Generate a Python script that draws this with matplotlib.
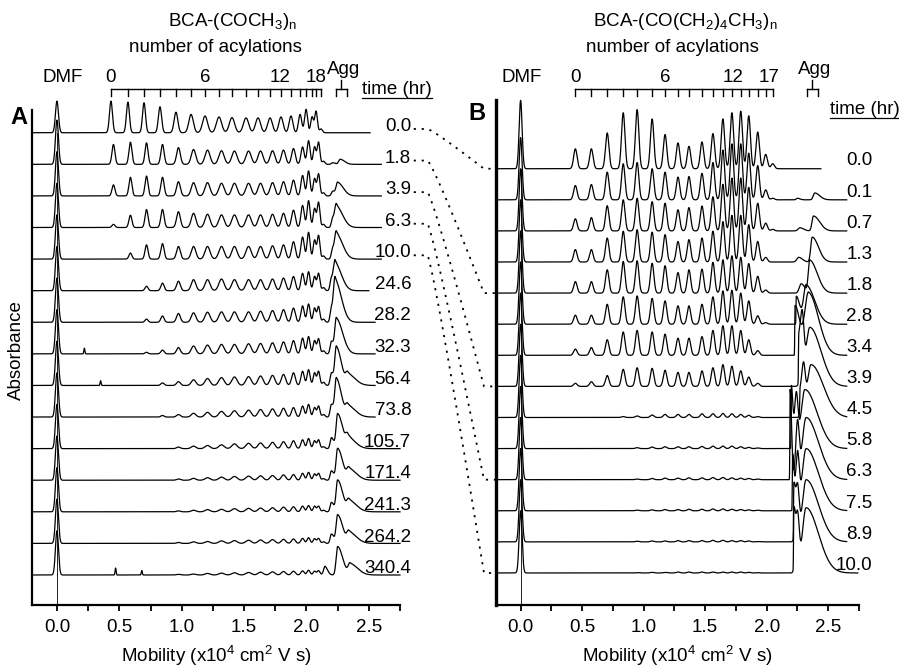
import numpy as np
import matplotlib.pyplot as plt
from matplotlib import transforms

plt.rcParams['font.family'] = ['Liberation Sans', 'DejaVu Sans']
plt.rcParams['mathtext.fontset'] = 'custom'
plt.rcParams['mathtext.rm'] = 'Liberation Sans'
plt.rcParams['mathtext.it'] = 'Liberation Sans:italic'
plt.rcParams['font.size'] = 13.5

# ---------------- Panel A: BCA-(COCH3)n ----------------
a_times = ["0.0", "1.8", "3.9", "6.3", "10.0", "24.6", "28.2", "32.3", "56.4",
           "73.8", "105.7", "171.4", "241.3", "264.2", "340.4"]
a_pos = [0.433, 0.569, 0.698, 0.826, 0.954, 1.075, 1.187, 1.299, 1.403, 1.516,
         1.612, 1.708, 1.796, 1.876, 1.949, 1.997, 2.045, 2.077, 2.117]
a_sig = [0.012, 0.012, 0.012, 0.013, 0.015, 0.018, 0.020, 0.021, 0.021, 0.021,
         0.020, 0.019, 0.017, 0.015, 0.013, 0.012, 0.011, 0.011, 0.011]
a_shift = [0.0] + [0.02] * 14
a_heights = [
    [1.00, 0.97, 0.95, 0.82, 0.65, 0.58, 0.53, 0.50, 0.48, 0.47, 0.47, 0.47, 0.50, 0.53, 0.58, 0.74, 0.50, 0.68, 0.12],
    [0.63, 0.70, 0.68, 0.63, 0.53, 0.47, 0.45, 0.43, 0.42, 0.42, 0.42, 0.43, 0.45, 0.50, 0.55, 0.75, 0.55, 0.70, 0.10],
    [0.35, 0.59, 0.63, 0.59, 0.45, 0.42, 0.42, 0.40, 0.40, 0.40, 0.40, 0.42, 0.45, 0.50, 0.65, 0.79, 0.55, 0.70, 0.10],
    [0.10, 0.39, 0.57, 0.57, 0.50, 0.45, 0.42, 0.40, 0.40, 0.40, 0.40, 0.42, 0.45, 0.55, 0.70, 0.85, 0.60, 0.80, 0.10],
    [0.00, 0.19, 0.45, 0.49, 0.40, 0.40, 0.40, 0.40, 0.40, 0.40, 0.40, 0.42, 0.45, 0.55, 0.70, 0.85, 0.60, 0.75, 0.10],
    [0.00, 0.00, 0.14, 0.24, 0.30, 0.35, 0.35, 0.37, 0.35, 0.35, 0.35, 0.37, 0.40, 0.45, 0.55, 0.60, 0.45, 0.55, 0.10],
    [0.00, 0.00, 0.10, 0.20, 0.28, 0.30, 0.32, 0.33, 0.33, 0.33, 0.35, 0.37, 0.40, 0.45, 0.52, 0.58, 0.45, 0.50, 0.10],
    [0.00, 0.00, 0.05, 0.12, 0.20, 0.25, 0.28, 0.30, 0.30, 0.32, 0.33, 0.35, 0.38, 0.42, 0.50, 0.55, 0.42, 0.48, 0.10],
    [0.00, 0.00, 0.00, 0.08, 0.12, 0.18, 0.22, 0.25, 0.27, 0.28, 0.30, 0.32, 0.35, 0.40, 0.45, 0.50, 0.40, 0.45, 0.10],
    [0.00, 0.00, 0.00, 0.05, 0.08, 0.12, 0.15, 0.18, 0.20, 0.22, 0.24, 0.26, 0.28, 0.30, 0.35, 0.40, 0.30, 0.35, 0.08],
    [0.00, 0.00, 0.00, 0.00, 0.05, 0.08, 0.10, 0.12, 0.15, 0.17, 0.18, 0.20, 0.22, 0.25, 0.28, 0.32, 0.25, 0.28, 0.06],
    [0.00, 0.00, 0.00, 0.00, 0.04, 0.06, 0.08, 0.10, 0.12, 0.13, 0.14, 0.15, 0.17, 0.18, 0.22, 0.25, 0.20, 0.22, 0.05],
    [0.00, 0.00, 0.00, 0.00, 0.03, 0.05, 0.07, 0.08, 0.10, 0.11, 0.12, 0.13, 0.15, 0.16, 0.18, 0.20, 0.18, 0.18, 0.05],
    [0.00, 0.00, 0.00, 0.00, 0.03, 0.05, 0.06, 0.08, 0.09, 0.10, 0.11, 0.12, 0.13, 0.14, 0.16, 0.18, 0.15, 0.16, 0.05],
    [0.00, 0.00, 0.00, 0.00, 0.02, 0.03, 0.05, 0.06, 0.07, 0.08, 0.09, 0.10, 0.11, 0.12, 0.13, 0.15, 0.12, 0.14, 0.05],
]
a_dmf = [1.0] + [1.4] * 14
# aggregate peaks: (centre, height, left width, right width)
a_agg = [
    [],
    [(2.21, 0.05, 0.010, 0.02), (2.27, 0.16, 0.012, 0.035)],
    [(2.21, 0.15, 0.010, 0.02), (2.25, 0.42, 0.012, 0.045)],
    [(2.21, 0.30, 0.010, 0.02), (2.24, 0.66, 0.012, 0.05)],
    [(2.21, 0.35, 0.010, 0.02), (2.24, 0.78, 0.012, 0.05)],
    [(2.20, 0.40, 0.010, 0.02), (2.23, 0.85, 0.012, 0.05)],
    [(2.20, 0.45, 0.010, 0.02), (2.23, 1.30, 0.012, 0.05)],
    [(2.20, 0.40, 0.010, 0.02), (2.24, 1.10, 0.012, 0.05)],
    [(2.20, 0.40, 0.010, 0.02), (2.24, 1.20, 0.012, 0.04), (2.33, 0.35, 0.015, 0.06)],
    [(2.20, 0.40, 0.010, 0.02), (2.24, 1.20, 0.012, 0.04), (2.33, 0.35, 0.015, 0.06)],
    [(2.20, 0.35, 0.010, 0.02), (2.25, 1.10, 0.012, 0.04), (2.33, 0.35, 0.015, 0.06)],
    [(2.20, 0.30, 0.010, 0.02), (2.25, 1.00, 0.012, 0.04), (2.34, 0.35, 0.015, 0.06)],
    [(2.20, 0.30, 0.010, 0.02), (2.25, 1.00, 0.012, 0.04), (2.34, 0.35, 0.015, 0.06)],
    [(2.20, 0.30, 0.010, 0.02), (2.25, 0.90, 0.012, 0.04), (2.34, 0.35, 0.015, 0.06)],
    [(2.15, 0.25, 0.010, 0.02), (2.25, 0.90, 0.012, 0.04), (2.35, 0.35, 0.015, 0.06)],
]
a_spikes = [[], [], [], [], [], [], [], [(0.22, 0.18)], [(0.35, 0.15)], [], [], [], [], [],
            [(0.47, 0.22), (0.68, 0.14)]]
a_end = [2.51, 2.6, 2.6, 2.6, 2.6, 2.5, 2.55, 2.55, 2.55, 2.55, 2.75, 2.75, 2.75, 2.75, 2.75]

# ---------------- Panel B: BCA-(CO(CH2)4CH3)n ----------------
b_times = ["0.0", "0.1", "0.7", "1.3", "1.8", "2.8", "3.4", "3.9", "4.5",
           "5.8", "6.3", "7.5", "8.9", "10.0"]
b_pos = [0.445, 0.575, 0.704, 0.834, 0.947, 1.069, 1.174, 1.279, 1.368, 1.474,
         1.563, 1.644, 1.717, 1.789, 1.854, 1.927, 1.992, 2.049]
b_heights = [
    [0.64, 0.64, 1.15, 1.80, 1.90, 1.60, 1.10, 0.83, 0.72, 0.86, 1.13, 1.60, 1.80, 1.85, 1.70, 1.18, 0.46, 0.16],
    [0.46, 0.49, 0.89, 1.16, 1.20, 1.00, 0.89, 0.73, 0.75, 0.85, 1.20, 1.60, 1.80, 1.80, 1.50, 1.10, 0.32, 0.05],
    [0.39, 0.43, 0.81, 1.00, 1.05, 0.94, 0.89, 0.68, 0.75, 0.80, 1.10, 1.50, 1.70, 1.70, 1.40, 0.89, 0.25, 0.05],
    [0.40, 0.40, 0.77, 0.99, 1.04, 0.96, 0.88, 0.66, 0.72, 0.77, 0.99, 1.30, 1.50, 1.50, 1.20, 0.66, 0.15, 0.00],
    [0.37, 0.37, 0.75, 1.02, 1.04, 0.96, 0.88, 0.66, 0.75, 0.77, 0.99, 1.07, 1.20, 1.15, 0.95, 0.54, 0.10, 0.00],
    [0.29, 0.29, 0.64, 0.88, 0.91, 0.83, 0.75, 0.59, 0.59, 0.64, 0.88, 1.07, 1.09, 1.00, 0.75, 0.27, 0.05, 0.00],
    [0.20, 0.25, 0.50, 0.75, 0.80, 0.75, 0.68, 0.55, 0.55, 0.60, 0.80, 0.95, 0.95, 0.80, 0.50, 0.15, 0.00, 0.00],
    [0.10, 0.15, 0.35, 0.55, 0.60, 0.58, 0.52, 0.45, 0.45, 0.50, 0.60, 0.70, 0.65, 0.50, 0.30, 0.10, 0.00, 0.00],
    [0.00, 0.00, 0.00, 0.03, 0.05, 0.08, 0.10, 0.10, 0.10, 0.12, 0.12, 0.13, 0.12, 0.10, 0.07, 0.03, 0.00, 0.00],
    [0.00, 0.00, 0.00, 0.00, 0.03, 0.05, 0.06, 0.06, 0.06, 0.07, 0.08, 0.08, 0.08, 0.06, 0.04, 0.02, 0.00, 0.00],
    [0.00, 0.00, 0.00, 0.00, 0.02, 0.04, 0.05, 0.05, 0.06, 0.06, 0.07, 0.07, 0.06, 0.05, 0.04, 0.02, 0.00, 0.00],
    [0.00, 0.00, 0.00, 0.00, 0.02, 0.03, 0.04, 0.04, 0.05, 0.05, 0.06, 0.06, 0.05, 0.04, 0.03, 0.02, 0.00, 0.00],
    [0.00, 0.00, 0.00, 0.00, 0.02, 0.03, 0.03, 0.04, 0.04, 0.04, 0.05, 0.05, 0.04, 0.04, 0.03, 0.01, 0.00, 0.00],
    [0.00, 0.00, 0.00, 0.00, 0.01, 0.02, 0.02, 0.03, 0.03, 0.03, 0.03, 0.03, 0.03, 0.03, 0.02, 0.01, 0.00, 0.00],
]
b_sig = 0.014
b_dmf = [2.2] + [2.0] * 13
b_agg = [
    [],
    [(2.25, 0.05, 0.010, 0.02), (2.39, 0.22, 0.012, 0.04)],
    [(2.27, 0.10, 0.015, 0.03), (2.38, 0.48, 0.012, 0.05)],
    [(2.26, 0.15, 0.015, 0.03), (2.37, 0.80, 0.012, 0.05)],
    [(2.28, 0.30, 0.015, 0.03), (2.35, 1.05, 0.012, 0.06)],
    [(2.24, 0.90, 0.002, 0.03), (2.32, 1.25, 0.020, 0.07)],
    [(2.23, 1.60, 0.002, 0.04), (2.34, 2.00, 0.030, 0.08)],
    [(2.26, 1.50, 0.002, 0.02), (2.29, 1.70, 0.014, 0.014), (2.35, 1.90, 0.030, 0.09)],
    [(2.27, 0.80, 0.002, 0.02), (2.30, 1.30, 0.014, 0.014), (2.36, 1.70, 0.030, 0.10)],
    [(2.20, 2.00, 0.002, 0.012), (2.24, 1.70, 0.014, 0.014), (2.31, 1.90, 0.030, 0.10)],
    [(2.19, 2.90, 0.002, 0.012), (2.25, 1.80, 0.014, 0.014), (2.32, 2.00, 0.030, 0.10)],
    [(2.21, 1.80, 0.002, 0.012), (2.25, 1.80, 0.014, 0.014), (2.32, 2.00, 0.030, 0.10)],
    [(2.22, 1.70, 0.002, 0.012), (2.25, 1.70, 0.014, 0.014), (2.32, 2.00, 0.030, 0.10)],
    [(2.22, 1.90, 0.002, 0.012), (2.25, 1.80, 0.014, 0.014), (2.32, 2.10, 0.030, 0.10)],
]
b_end = [2.44] + [2.65] * 12 + [2.74]

# times in A that are linked to the same times in B
links = ["0.0", "1.8", "3.9", "6.3", "10.0"]

W, H = 899, 671


def fx(px):
    return px / W


def fy(py):
    return 1 - py / H


def peak(x, c, h, sl, sr):
    s = np.where(x < c, sl, sr)
    return h * np.exp(-0.5 * ((x - c) / s) ** 2)


def trace(x, pos, heights, sig, shift, dmf, agg, spikes):
    y = peak(x, 0.0, dmf, 0.012, 0.012)
    for p, h, s in zip(pos, heights, sig):
        if h > 0:
            y += peak(x, p + shift, h, s, s)
    for c, h, sl, sr in agg:
        y += peak(x, c, h, sl, sr)
    for c, h in spikes:
        y += peak(x, c, h, 0.004, 0.004)
    return y


fig = plt.figure(figsize=(8.99, 6.71), dpi=100)
axA = fig.add_axes([fx(32), fy(605), fx(400) - fx(32), fy(110) - fy(605)])
axB = fig.add_axes([fx(496), fy(605), fx(859) - fx(496), fy(100) - fy(605)])
axA.set_ylim(-0.95, 14.72)
axB.set_ylim(-1.03, 15.21)

for ax, lw in [(axA, 1.6), (axB, 2.4)]:
    ax.set_xlim(-0.2, 2.75)
    ax.spines['top'].set_visible(False)
    ax.spines['right'].set_visible(False)
    ax.spines['left'].set_linewidth(lw)
    ax.spines['bottom'].set_linewidth(1.6)
    ax.set_yticks([])
    ax.set_xticks(np.arange(0, 2.51, 0.5))
    ax.set_xticks(np.arange(0.0, 2.76, 0.25), minor=True)
    ax.tick_params(axis='x', which='both', direction='out', length=4, width=1.3,
                   labelsize=13.5, pad=6)
    ax.xaxis.set_major_formatter(plt.FormatStrFormatter('%.1f'))
    ax.set_xlabel("Mobility (x10$^4$ cm$^2$ V s)", fontsize=13.5, labelpad=6)

# traces A
nA = len(a_times)
for i in range(nA):
    base = nA - 1 - i
    x = np.linspace(-0.2, a_end[i], 4000)
    y = trace(x, a_pos, a_heights[i], a_sig, a_shift[i], a_dmf[i], a_agg[i], a_spikes[i])
    axA.plot(x, base + y, color='black', lw=0.9, clip_on=False)
    axA.text(2.84, base + 0.2, a_times[i], ha='right', va='center', fontsize=13.5)
axA.plot([0, 0], [-0.95, nA - 1], color='black', lw=0.6)

# traces B
nB = len(b_times)
for i in range(nB):
    base = nB - 1 - i
    x = np.linspace(-0.2, b_end[i], 4000)
    y = trace(x, b_pos, b_heights[i], [b_sig] * len(b_pos), 0.0, b_dmf[i], b_agg[i], [])
    axB.plot(x, base + y, color='black', lw=0.9, clip_on=False)
    axB.text(2.86, base + 0.25, b_times[i], ha='right', va='center', fontsize=13.5)
axB.plot([0, 0], [-1.03, nB - 1], color='black', lw=0.6)


# header rulers
def header(ax, title, title_x, sub_x, dmf_x, pos, labels, label_dx, agg_x, agg_w):
    tr = transforms.blended_transform_factory(ax.transData, fig.transFigure)
    ax.text(title_x, fy(22), title, transform=tr, ha='center', va='center')
    ax.text(sub_x, fy(48), "number of acylations", transform=tr, ha='center', va='center')
    ax.text(dmf_x, fy(77), "DMF", transform=tr, ha='center', va='center')
    ax.plot([pos[0], pos[-1]], [fy(89), fy(89)], transform=tr, color='black', lw=1, clip_on=False)
    for p in pos:
        ax.plot([p, p], [fy(89), fy(96)], transform=tr, color='black', lw=1, clip_on=False)
    for n, dx in zip(labels, label_dx):
        ax.text(pos[n] + dx, fy(77), str(n), transform=tr, ha='center', va='center')
    ax.text(agg_x + 0.02, fy(69), "Agg", transform=tr, ha='center', va='center')
    ax.plot([agg_x, agg_x], [fy(80), fy(89)], transform=tr, color='black', lw=1, clip_on=False)
    ax.plot([agg_x - agg_w, agg_x + agg_w], [fy(89), fy(89)], transform=tr, color='black', lw=1, clip_on=False)
    for s in (-1, 1):
        ax.plot([agg_x + s * agg_w, agg_x + s * agg_w], [fy(89), fy(96)], transform=tr,
                color='black', lw=1, clip_on=False)


header(axA, "BCA-(COCH$_3$)$_\\mathrm{n}$", 1.41, 1.27, 0.044, a_pos, [0, 6, 12, 18],
       [0, 0, -0.01, -0.04], 2.28, 0.045)
header(axB, "BCA-(CO(CH$_2$)$_4$CH$_3$)$_\\mathrm{n}$", 1.34, 1.23, 0.01, b_pos, [0, 6, 12, 17],
       [0, 0, 0.01, -0.03], 2.37, 0.045)

# time (hr) headings, underlined
for x0, x1, yy in [(362, 432, 90), (830, 899, 110)]:
    fig.text(fx(x0), fy(yy), "time (hr)", ha='left', va='center', fontsize=13.5)
    fig.add_artist(plt.Line2D([fx(x0), fx(x1)], [fy(yy + 8), fy(yy + 8)], color='black', lw=0.9))

fig.text(fx(19), fy(117), "A", ha='center', va='center', fontsize=17, fontweight='bold')
fig.text(fx(477), fy(113), "B", ha='center', va='center', fontsize=17, fontweight='bold')
fig.text(fx(16), fy(350), "Absorbance", ha='center', va='center', rotation=90, fontsize=13.5)

# dotted links from time labels in A to the same times in B
for t in links:
    ia = a_times.index(t)
    ib = b_times.index(t)
    p0 = axA.transData.transform((2.86, nA - 1 - ia + 0.12))
    p3 = axB.transData.transform((-0.2, nB - 1 - ib))
    s = np.linspace(0, 1, 60)
    a0 = p0 + np.array([14, 0])
    a3 = p3 - np.array([12, 0])
    c1 = a0 + np.array([10, -(a0[1] - a3[1]) * 0.1])
    c2 = a3 + np.array([-8, (a0[1] - a3[1]) * 0.15])
    bez = ((1 - s) ** 3)[:, None] * a0 + (3 * (1 - s) ** 2 * s)[:, None] * c1 \
        + (3 * (1 - s) * s ** 2)[:, None] * c2 + (s ** 3)[:, None] * a3
    pts = np.vstack([p0, bez, p3])
    fig.add_artist(plt.Line2D(pts[:, 0] / W, pts[:, 1] / H, color='black', lw=1.3,
                              linestyle=(0, (1.2, 3.2)), transform=fig.transFigure))

fig.savefig("out.png", dpi=100)
